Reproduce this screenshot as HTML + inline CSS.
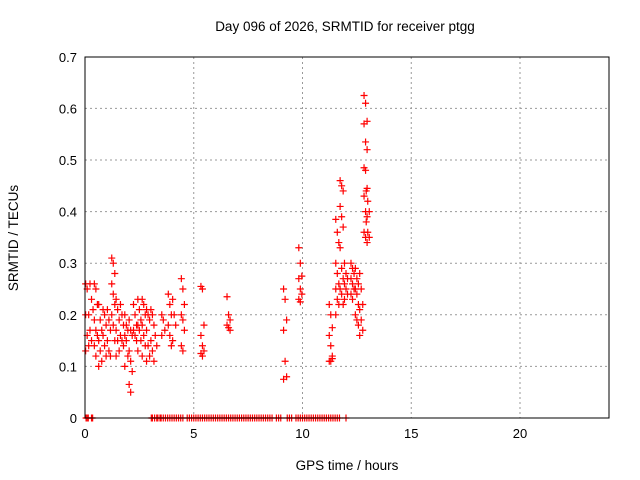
<!DOCTYPE html>
<html><head><meta charset="utf-8"><style>
body{margin:0;background:#fff}
svg{display:block;font-family:"Liberation Sans",sans-serif}
</style></head><body>
<svg id="chart" width="640" height="480">
<text x="345" y="31" font-size="13.5" text-anchor="middle">Day 096 of 2026, SRMTID for receiver ptgg</text>
<text x="347" y="470" font-size="13.5" text-anchor="middle">GPS time / hours</text>
<text transform="translate(18,238) rotate(-90)" font-size="13.5" text-anchor="middle">SRMTID / TECUs</text>
<g id="grid"></g><g id="ticks"></g><g id="marks"></g>
<rect x="85" y="57" width="524" height="361" fill="none" stroke="#000"/>
</svg>
<script>
const xTicks=[0,5,10,15,20];
const yTicks=[0,0.1,0.2,0.3,0.4,0.5,0.6,0.7];
const yTickLabels=["0","0.1","0.2","0.3","0.4","0.5","0.6","0.7"];
const groupHours=[0.1,0.3,0.5,0.7,0.9,1.1,1.3,1.5,1.7,1.9,2.1,2.3,2.5,2.7,2.9,3.1,3.3,3.6,3.9,4.1,4.5,5.4,6.6,9.2,9.9,11.3,11.6,11.8,12.0,12.3,12.5,12.7,12.9,13.0];
const groupValues=[
[0.26,0.25,0.2,0.2,0.16,0.14,0.13],
[0.26,0.23,0.21,0.17,0.15],
[0.26,0.25,0.22,0.19,0.17,0.16,0.14,0.12],
[0.22,0.19,0.17,0.15,0.13,0.11,0.1],
[0.21,0.2,0.18,0.16,0.14,0.12],
[0.21,0.19,0.17,0.15,0.13,0.12],
[0.31,0.3,0.28,0.26,0.24,0.22,0.2,0.18,0.15],
[0.23,0.21,0.19,0.17,0.15,0.13,0.12],
[0.22,0.2,0.18,0.16,0.15,0.14],
[0.2,0.18,0.17,0.16,0.15,0.12,0.1],
[0.19,0.17,0.16,0.13,0.11,0.09,0.065,0.05],
[0.22,0.2,0.18,0.17,0.16,0.15],
[0.23,0.21,0.19,0.18,0.17,0.15,0.13],
[0.23,0.22,0.2,0.18,0.16,0.14,0.12],
[0.21,0.2,0.19,0.17,0.14,0.12,0.11],
[0.21,0.2,0.18,0.15,0.13,0.11],
[0.16,0.14],
[0.2,0.19,0.17,0.16],
[0.24,0.22,0.2,0.18,0.16,0.14],
[0.23,0.2,0.18,0.15],
[0.27,0.25,0.22,0.2,0.19,0.17,0.14,0.13],
[0.255,0.25,0.18,0.16,0.14,0.13,0.125,0.12],
[0.235,0.2,0.19,0.18,0.175,0.17],
[0.25,0.23,0.19,0.17,0.11,0.08,0.075],
[0.33,0.3,0.275,0.27,0.25,0.24,0.23,0.225],
[0.22,0.2,0.175,0.16,0.14,0.12,0.11,0.11,0.115],
[0.385,0.36,0.34,0.3,0.28,0.26,0.25,0.23,0.22,0.2],
[0.46,0.45,0.44,0.41,0.39,0.37,0.33,0.29,0.27,0.25,0.24,0.22],
[0.3,0.28,0.27,0.26,0.25,0.24,0.23],
[0.3,0.29,0.28,0.27,0.26,0.25,0.24,0.23],
[0.29,0.27,0.26,0.25,0.24,0.22,0.2,0.19,0.18],
[0.28,0.25,0.22,0.21,0.19,0.17,0.16],
[0.625,0.61,0.575,0.57,0.535,0.52,0.485,0.48,0.445,0.43,0.4,0.39,0.36,0.35,0.34],
[0.44,0.42,0.4,0.38,0.36,0.35]];
const zeroHours=[0.05,0.1,0.15,0.3,0.35,3.05,3.1,3.2,3.3,3.35,3.45,3.5,3.6,3.7,3.8,3.9,4.0,4.1,4.2,4.3,4.4,4.5,4.7,4.8,4.9,5.0,5.1,5.2,5.3,5.4,5.5,5.6,5.7,5.8,5.9,6.0,6.1,6.2,6.3,6.4,6.5,6.6,6.7,6.8,6.9,7.0,7.1,7.2,7.3,7.4,7.5,7.6,7.7,7.8,7.9,8.0,8.1,8.2,8.3,8.4,8.5,8.6,8.8,8.9,9.0,9.3,9.4,9.5,9.7,9.8,9.9,10.0,10.1,10.2,10.3,10.4,10.5,10.6,10.7,10.8,10.9,11.0,11.1,11.2,11.3,11.4,11.5,11.6,11.7,12.0];
const svg=document.getElementById('chart'),NS='http://www.w3.org/2000/svg';
const X=h=>85+h*21.75, Y=v=>418-v*516;
function mk(t,a,p){const e=document.createElementNS(NS,t);for(const k in a)e.setAttribute(k,a[k]);p.appendChild(e);return e;}
const grid=document.getElementById('grid'),ticks=document.getElementById('ticks'),marks=document.getElementById('marks');
xTicks.forEach(t=>{
 if(t>0){const g=mk('line',{x1:X(t),x2:X(t),y1:57,y2:418,stroke:'#999','stroke-dasharray':'2,3'},grid);
 
 }
 const l=mk('text',{x:X(t),y:438,'font-size':13,'text-anchor':'middle'},ticks);l.textContent=t;
 
 
});
yTicks.forEach((t,i)=>{
 if(t>0&&t<0.7){const g=mk('line',{x1:85,x2:609,y1:Y(t),y2:Y(t),stroke:'#999','stroke-dasharray':'2,3'},grid);
 
 }
 const l=mk('text',{x:77,y:Y(t)+5,'font-size':13,'text-anchor':'end'},ticks);l.textContent=yTickLabels[i];
 
 
});
function plus(h,v){const x=X(h),y=Y(v);
 const p=mk('path',{d:`M${x-3.5},${y}h7M${x},${y-3.5}v7`,stroke:'#f00','stroke-width':1.2,fill:'none'},marks);
 
 }
groupHours.forEach((h,i)=>groupValues[i].forEach((v,j)=>plus(h+((j%3)-1)*0.07,v)));
zeroHours.forEach(h=>plus(h,0));
</script>
</body></html>
